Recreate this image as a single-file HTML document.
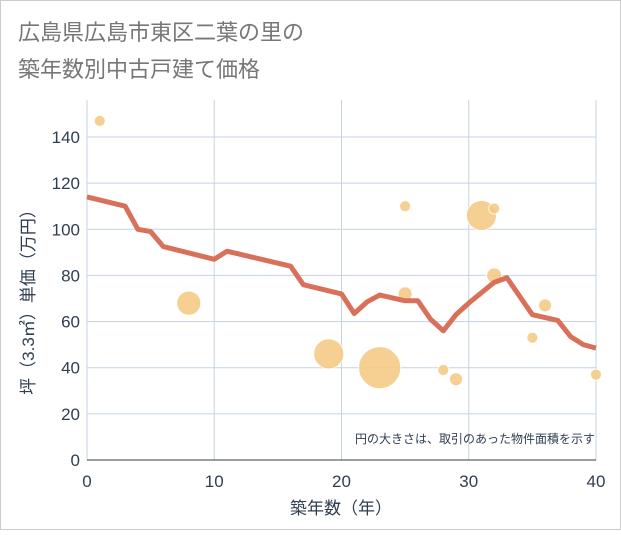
<!DOCTYPE html>
<html><head><meta charset="utf-8"><style>
body{margin:0;background:#fff;}
svg text{font-family:"Liberation Sans","Noto Sans CJK JP",sans-serif;}
</style></head><body>
<svg width="621" height="530">
<rect x="0.5" y="0.5" width="620" height="529" fill="#fff" stroke="#ccc"/>
<text x="18" y="40" font-size="22" fill="#777">広島県広島市東区二葉の里の</text>
<text x="18" y="77" font-size="22" fill="#777">築年数別中古戸建て価格</text>
<g id="grid"></g>
<g id="bubbles"></g>
<g id="line"></g>
<g id="axes"></g>
<text x="595" y="443" font-size="12" fill="#2f3e50" text-anchor="end">円の大きさは、取引のあった物件面積を示す</text>
<text x="341" y="514" font-size="17" fill="#2f3e50" text-anchor="middle">築年数（年）</text>
<text transform="translate(34,298) rotate(-90)" font-size="17" fill="#2f3e50" text-anchor="middle">坪（3.3㎡）単価（万円）</text>
</svg>
<script>
const xTicks=[0,10,20,30,40];
const yTicks=[0,20,40,60,80,100,120,140];
const lineX=[0,3,4,5,6,10,11,16,17,20,21,22,23,25,26,27,28,29,30,32,33,35,37,38,39,40];
const lineY=[114,110,100,99,92.5,87,90.5,84,76,72,63.5,68.5,71.5,69,69,61,56,63,68,77,79,63,60.5,53.5,50,48.5];
const bubX=[1,8,19,23,25,25,28,29,31,32,32,35,36,40];
const bubY=[147,68,46,40,110,72,39,35,106,109,80,53,67,37];
const bubR=[5.5,12,15,21,5.5,7,5.5,6.5,15,5.5,7.5,5.5,6.5,5.5];
const X0=87,X1=596,Y0=460,Y1=137;
const sx=v=>X0+(X1-X0)*v/40;
const sy=v=>Y0-(Y0-Y1)*v/140;
const NS='http://www.w3.org/2000/svg';
function mk(t,p,a){const e=document.createElementNS(NS,t);for(const k in a)e.setAttribute(k,a[k]);p.appendChild(e);return e;}
const grid=document.getElementById('grid'),axes=document.getElementById('axes');
xTicks.forEach(v=>{
 const l=mk('line',grid,{x1:sx(v),x2:sx(v),y1:100,y2:Y0,stroke:'#c4d3e3','stroke-width':1});
 
 
 const t=mk('text',axes,{x:sx(v),y:487,'font-size':17,fill:'#2f3e50','text-anchor':'middle'});
 t.textContent=v;
 
 
});
yTicks.forEach(v=>{
 const l=mk('line',grid,{x1:X0,x2:X1,y1:sy(v),y2:sy(v),stroke:'#c4d3e3','stroke-width':1});
 
 
 const t=mk('text',axes,{x:80,y:sy(v)+6,'font-size':17,fill:'#2f3e50','text-anchor':'end'});
 t.textContent=v;
 
 
});
const ax=mk('line',axes,{x1:X0,x2:X1,y1:Y0,y2:Y0,stroke:'#2f3e50','stroke-width':1});


const bg=document.getElementById('bubbles');
bubX.forEach((v,i)=>{
 const c=mk('circle',bg,{cx:sx(v),cy:sy(bubY[i]),r:bubR[i],fill:'#f5c880','fill-opacity':0.85,stroke:'#fff','stroke-width':0.8});
 
 
});
const pts=lineX.map((v,i)=>sx(v)+','+sy(lineY[i])).join(' ');
const pl=mk('polyline',document.getElementById('line'),{points:pts,fill:'none',stroke:'#d9705a','stroke-width':5,'stroke-linejoin':'round'});


</script>
</body></html>
